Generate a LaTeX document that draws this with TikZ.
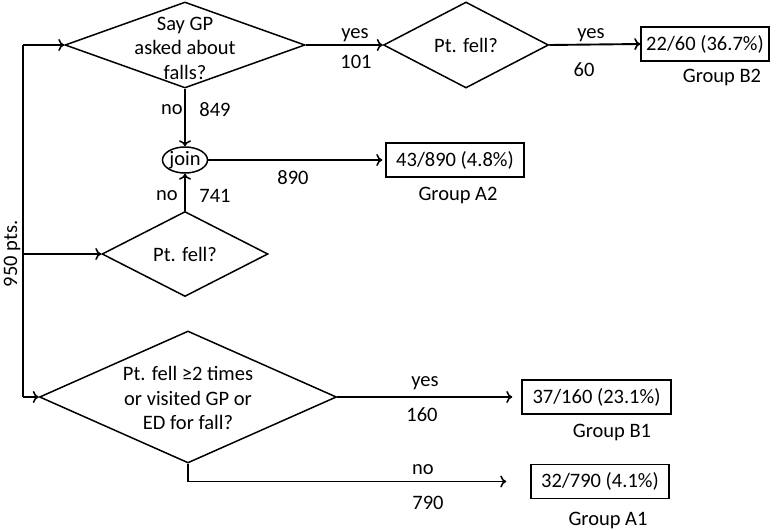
\documentclass[tikz,border=0pt]{standalone}
\usepackage{fontspec}
\setmainfont{Carlito}
\usetikzlibrary{arrows.meta,shapes.geometric}
\begin{document}
\begin{tikzpicture}[x=1pt,y=-1pt,
  every node/.style={font=\fontsize{20.5}{24.5}\selectfont},
  line/.style={line width=1.9pt},
  arr/.style={line width=1.9pt,-{To[length=6pt,width=12pt,line width=1.6pt]}},
  dia/.style={diamond,draw,line width=1.5pt,inner sep=0pt},
  box/.style={rectangle,draw,line width=1.5pt,minimum height=34pt,inner sep=0pt},
  lbl/.style={inner sep=0pt}]
\useasboundingbox (0,0) rectangle (782,530);
% decisions
\node[dia,minimum width=240pt,minimum height=86pt] (d1) at (185,45) {};
\node[lbl,align=center] (d1t) at (185,48) {Say GP\\asked about\\falls?};
\node[dia,minimum width=165pt,minimum height=86pt] (d2) at (466,45) {};
\node[lbl] (d2t) at (466,45) {Pt. fell?};
\node[dia,minimum width=166pt,minimum height=85pt] (d3) at (185,254) {};
\node[lbl] (d3t) at (185,254) {Pt. fell?};
\node[dia,minimum width=297pt,minimum height=132pt] (d4) at (188,397) {};
\node[lbl,align=center] (d4t) at (188,398) {Pt. fell ≥2 times\\or visited GP or\\ED for fall?};
\node[ellipse,draw,line width=1.5pt,minimum width=45pt,minimum height=26pt,inner sep=0pt] (join) at (185,160) {join};
% result boxes
\node[box,minimum width=128pt] (b2) at (705,44) {22/60 (36.7\%)};
\node[box,minimum width=138pt] (a2) at (455,160) {43/890 (4.8\%)};
\node[box,minimum width=149pt] (b1) at (596.5,397) {37/160 (23.1\%)};
\node[box,minimum width=138pt] (a1) at (600,481.5) {32/790 (4.1\%)};
\node[lbl] (gb2) at (722,77) {Group B2};
\node[lbl] (ga2) at (458,195) {Group A2};
\node[lbl] (gb1) at (612,432) {Group B1};
\node[lbl] (ga1) at (608,520) {Group A1};
% start line
\coordinate (v1) at (23,45);
\coordinate (v2) at (23,254);
\coordinate (v3) at (23,397);
\draw[line] (v1) -- (v3);
\node[lbl,rotate=90] (pts) at (12,254) {950 pts.};
\draw[arr] (v1) -- (d1.west);
\draw[arr] (v2) -- (d3.west);
\draw[arr] (v3) -- (d4.west);
% connectors
\draw[arr] (d1.east) -- (d2.west);
\draw[arr] (d2.east) -- (b2.west);
\draw[arr] (d1.south) -- (join.north);
\draw[arr] (d3.north) -- (join.south);
\draw[arr,shorten >=3pt] (join.east) -- (a2.west);
\draw[arr,shorten >=9pt] (d4.east) -- (b1.west);
\draw[arr,shorten >=24pt] (d4.south) |- (a1.west);
% edge labels
\node[lbl] (l1) at (355,35) {yes};
\node[lbl] (l2) at (356,62) {101};
\node[lbl] (l3) at (591,35) {yes};
\node[lbl] (l4) at (584,70) {60};
\node[lbl] (l5) at (172,110) {no};
\node[lbl] (l6) at (215,110) {849};
\node[lbl] (l7) at (293,178) {890};
\node[lbl] (l8) at (167,196) {no};
\node[lbl] (l9) at (215,196) {741};
\node[lbl] (l10) at (425,383) {yes};
\node[lbl] (l11) at (422,415) {160};
\node[lbl] (l12) at (423,470) {no};
\node[lbl] (l13) at (428,503) {790};
\end{tikzpicture}
\end{document}
